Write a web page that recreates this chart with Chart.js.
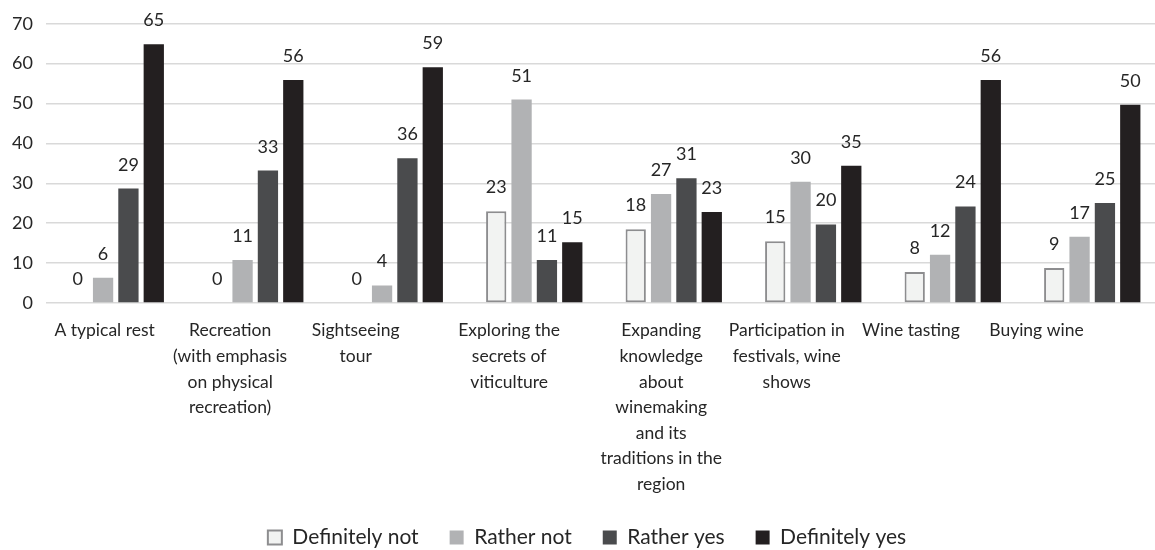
<!DOCTYPE html>
<html>
<head>
<meta charset="utf-8">
<script src="https://cdn.jsdelivr.net/npm/chart.js@4.4.1/dist/chart.umd.min.js"></script>
<style>
  html, body { margin: 0; padding: 0; background: #ffffff; overflow: hidden; }
  /* a touch wider than the window: the source crops its right gridline ends */
  #wrap { width: 1162px; height: 550px; position: relative; }
</style>
</head>
<body>
<div id="wrap"><canvas id="chart"></canvas></div>
<script>
// ---- data ----
const categories = [
  'A typical rest',
  ['Recreation', '(with emphasis', 'on physical', 'recreation)'],
  ['Sightseeing', 'tour'],
  ['Exploring the', 'secrets of', 'viticulture'],
  ['Expanding', 'knowledge', 'about', 'winemaking', 'and its', 'traditions in the', 'region'],
  ['Participation in', 'festivals, wine', 'shows'],
  'Wine tasting',
  'Buying wine'
];
const seriesNames = ['Definitely not', 'Rather not', 'Rather yes', 'Definitely yes'];

// bar heights as drawn
const definitelyNot = [0, 0, 0, 23, 18.5, 15.5, 7.8, 8.8];
const ratherNot     = [6.3, 10.8, 4.4, 51, 27.3, 30.4, 12.1, 16.6];
const ratherYes     = [28.7, 33.2, 36.3, 10.8, 31.3, 19.7, 24.2, 25.1];
const definitelyYes = [64.9, 55.9, 59.1, 15.2, 22.8, 34.4, 55.9, 49.7];

// printed value labels
const definitelyNotLabels = [0, 0, 0, 23, 18, 15, 8, 9];
const ratherNotLabels     = [6, 11, 4, 51, 27, 30, 12, 17];
const ratherYesLabels     = [29, 33, 36, 11, 31, 20, 24, 25];
const definitelyYesLabels = [65, 56, 59, 15, 23, 35, 56, 50];

const yTicks = [0, 10, 20, 30, 40, 50, 60, 70];

// category labels in the source sit a little left of their bar groups
const labelAt = [-0.08, 0.82, 1.72, 2.82, 3.91, 4.81, 5.70, 6.60];

const FONT = 'Lato';
const TEXT = '#262626';

// value labels above the bars
const barLabels = {
  id: 'barLabels',
  afterDatasetsDraw(chart) {
    const ctx = chart.ctx;
    ctx.save();
    ctx.font = '18px ' + FONT;
    ctx.fillStyle = TEXT;
    ctx.textAlign = 'center';
    ctx.textBaseline = 'alphabetic';
    chart.data.datasets.forEach((ds, i) => {
      chart.getDatasetMeta(i).data.forEach((bar, j) => {
        ctx.fillText(String(ds.valueLabels[j]), bar.x, bar.y - 18);
      });
    });
    ctx.restore();
  }
};

const barOpts = { categoryPercentage: 0.727, barPercentage: 0.8, borderSkipped: false };

new Chart(document.getElementById('chart'), {
  type: 'bar',
  data: {
    labels: categories,
    datasets: [
      { label: seriesNames[0], data: definitelyNot, valueLabels: definitelyNotLabels,
        backgroundColor: '#f2f3f2', borderColor: '#8d8d8f', borderWidth: 2, ...barOpts },
      { label: seriesNames[1], data: ratherNot, valueLabels: ratherNotLabels,
        backgroundColor: '#b1b2b4', borderWidth: 0, ...barOpts },
      { label: seriesNames[2], data: ratherYes, valueLabels: ratherYesLabels,
        backgroundColor: '#4a4b4d', borderWidth: 0, ...barOpts },
      { label: seriesNames[3], data: definitelyYes, valueLabels: definitelyYesLabels,
        backgroundColor: '#231f20', borderWidth: 0, ...barOpts }
    ]
  },
  options: {
    responsive: true,
    maintainAspectRatio: false,
    animation: false,
    layout: { padding: { top: 10, right: 0, bottom: -8, left: 12 } },
    plugins: {
      tooltip: { enabled: false },
      legend: {
        position: 'bottom',
        labels: {
          color: TEXT, font: { family: FONT, size: 21 },
          boxWidth: 14, boxHeight: 14, padding: 31
        }
      }
    },
    scales: {
      x: { display: false },
      xLabels: {
        type: 'linear',
        position: 'bottom',
        offset: false,
        min: -0.5, max: 7.5,
        afterBuildTicks(axis) { axis.ticks = labelAt.map(v => ({ value: v })); },
        grid: { display: false, drawTicks: false },
        border: { display: false },
        ticks: {
          color: TEXT, font: { family: FONT, size: 17.5, lineHeight: 1.46 },
          maxRotation: 0, autoSkip: false, padding: 15,
          callback: (v, i) => categories[i]
        },
        afterFit(axis) { axis.height = 193; }
      },
      y: {
        min: 0, max: 70,
        afterBuildTicks(axis) { axis.ticks = yTicks.map(v => ({ value: v })); },
        grid: { color: '#d9d9d9', lineWidth: 1.5, drawTicks: false },
        border: { display: false },
        ticks: { color: TEXT, font: { family: FONT, size: 18 }, padding: 13 },
        afterFit(axis) { axis.width = 34; }
      }
    }
  },
  plugins: [barLabels]
});
</script>
</body>
</html>
